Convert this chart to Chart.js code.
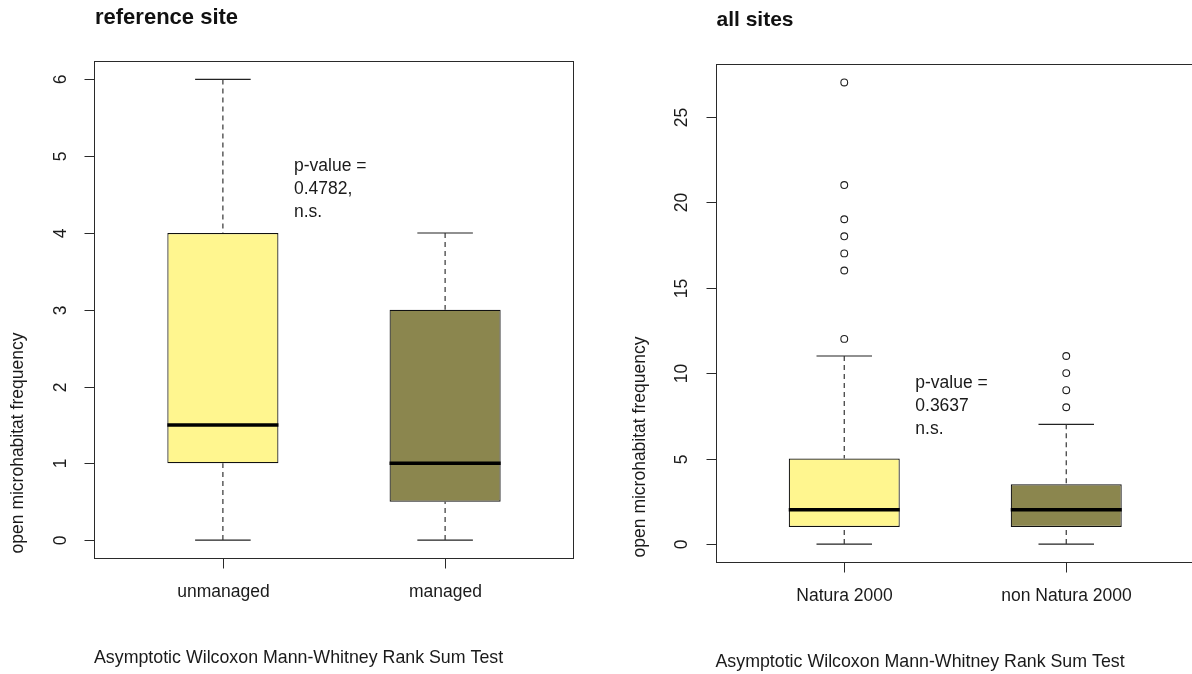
<!DOCTYPE html>
<html>
<head>
<meta charset="utf-8">
<script src="https://cdn.jsdelivr.net/npm/chart.js@4.4.1/dist/chart.umd.min.js"></script>
<style>
  html, body { margin: 0; padding: 0; background: #fff; overflow: hidden; width: 1192px; height: 674px; }
  .panel { position: absolute; top: 0; }
</style>
</head>
<body>
<div class="panel" style="left:0"><canvas id="refChart" width="596" height="674"></canvas></div>
<div class="panel" style="left:596px"><canvas id="allChart" width="610" height="674"></canvas></div>
<script>
// ---- reference site: five-number summaries per management type ----
const refTitle = 'reference site';
const refCategories = ['unmanaged', 'managed'];
const refMin = [0, 0];
const refQ1 = [1, 0.5];
const refMedian = [1.5, 1];
const refQ3 = [4, 3];
const refMax = [6, 4];
const refOutliers = [[], []];
const refTicks = [0, 1, 2, 3, 4, 5, 6];
const refPValue = ['p-value =', '0.4782,', 'n.s.'];
const refPValueAt = [1.32, 4.87];

// ---- all sites: five-number summaries per protection status ----
const allTitle = 'all sites';
const allCategories = ['Natura 2000', 'non Natura 2000'];
const allMin = [0, 0];
const allQ1 = [1, 1];
const allMedian = [2, 2];
const allQ3 = [5, 3.5];
const allMax = [11, 7];
const allOutliers = [[27, 21, 19, 18, 17, 16, 12], [11, 10, 9, 8]];
const allTicks = [0, 5, 10, 15, 20, 25];
const allPValue = ['p-value =', '0.3637', 'n.s.'];
const allPValueAt = [1.32, 9.42];

const yAxisTitle = 'open microhabitat frequency';
const testCaption = 'Asymptotic Wilcoxon Mann-Whitney Rank Sum Test';
const boxColors = ['#FFF68F', '#8B864E'];

const FONT = '"Liberation Sans", Arial, sans-serif';
const INK = '#1a1a1a';

// frame, axes, labels and annotations drawn on top of the datasets
const decor = {
  id: 'decor',
  afterDatasetsDraw(chart, args, o) {
    const { ctx, chartArea: a, scales: { x, y } } = chart;
    ctx.save();
    ctx.strokeStyle = '#2a2a2a';
    ctx.lineWidth = 1;
    const L = Math.round(a.left) + 0.5, T = Math.round(a.top) + 0.5;
    const R = Math.round(a.right) - 0.5, B = Math.round(a.bottom) - 0.5;
    ctx.strokeRect(L, T, R - L, B - T);

    ctx.fillStyle = INK;
    ctx.font = o.textSize + 'px ' + FONT;
    // y axis ticks with rotated labels
    y.ticks.forEach(t => {
      const py = Math.round(y.getPixelForValue(t.value)) + 0.5;
      ctx.beginPath(); ctx.moveTo(L - 10, py); ctx.lineTo(L, py); ctx.stroke();
      ctx.save();
      ctx.translate(a.left - 33, py);
      ctx.rotate(-Math.PI / 2);
      ctx.textAlign = 'center'; ctx.textBaseline = 'middle';
      ctx.fillText(String(t.value), 0, 0);
      ctx.restore();
    });
    // x axis ticks and category names
    x.ticks.forEach((t, i) => {
      const px = Math.round(x.getPixelForValue(t.value)) + 0.5;
      ctx.beginPath(); ctx.moveTo(px, B); ctx.lineTo(px, B + 10); ctx.stroke();
      ctx.textAlign = 'center'; ctx.textBaseline = 'middle';
      ctx.fillText(o.categories[i], px, a.bottom + 34);
    });
    // y axis title
    ctx.save();
    ctx.translate(a.left - 75.5, a.bottom - 115.5);
    ctx.rotate(-Math.PI / 2);
    ctx.textAlign = 'center'; ctx.textBaseline = 'middle';
    ctx.fillText(yAxisTitle, 0, 0);
    ctx.restore();
    // p-value annotation
    ctx.textAlign = 'left'; ctx.textBaseline = 'middle';
    const ax = x.getPixelForValue(o.pAt[0]);
    const ay = y.getPixelForValue(o.pAt[1]);
    o.pText.forEach((s, i) => ctx.fillText(s, ax, ay + i * 23));
    // test caption
    ctx.font = o.captionSize + 'px ' + FONT;
    ctx.fillText(testCaption, a.left, a.bottom + 99.5);
    // panel title
    ctx.font = 'bold ' + o.titleSize + 'px ' + FONT;
    ctx.fillStyle = '#111';
    ctx.fillText(o.title, a.left + 1, a.top - 43.5);
    ctx.restore();
  }
};

function boxChart(id, d, padding, sizes) {
  const pos = d.categories.map((_, i) => i + 1);
  const boxHalf = 0.25, capHalf = 0.125;
  const all = d.min.concat(d.max, d.outliers.flat());
  const lo = Math.min(...all), hi = Math.max(...all);
  const yPad = (hi - lo) * 0.04;
  const xPad = pos.length * 0.04;

  const datasets = [{
    type: 'bar',
    data: pos.map((x, i) => ({ x, y: [d.q1[i], d.q3[i]] })),
    backgroundColor: boxColors,
    borderColor: '#111',
    borderWidth: 1.2,
    borderSkipped: false,
    barPercentage: boxHalf * 2,
    categoryPercentage: 1,
    order: 10
  }];
  const seg = (pts, extra) => datasets.push(Object.assign({
    type: 'line', data: pts, pointRadius: 0, borderColor: '#222', borderWidth: 1.2,
    fill: false, tension: 0, borderCapStyle: 'butt', order: 5
  }, extra));
  pos.forEach((x, i) => {
    seg([{ x, y: d.max[i] }, { x, y: d.q3[i] }], { borderDash: [5, 4], borderColor: '#333' });
    seg([{ x, y: d.min[i] }, { x, y: d.q1[i] }], { borderDash: [5, 4], borderColor: '#333' });
    seg([{ x: x - capHalf, y: d.max[i] }, { x: x + capHalf, y: d.max[i] }]);
    seg([{ x: x - capHalf, y: d.min[i] }, { x: x + capHalf, y: d.min[i] }]);
    seg([{ x: x - boxHalf, y: d.median[i] }, { x: x + boxHalf, y: d.median[i] }],
        { borderWidth: 3.5, borderColor: '#000', order: 4 });
  });
  datasets.push({
    type: 'scatter',
    data: pos.flatMap((x, i) => d.outliers[i].map(v => ({ x, y: v }))),
    pointRadius: 3.4, pointBorderWidth: 1.1, pointBorderColor: '#222',
    pointBackgroundColor: 'rgba(0,0,0,0)', order: 0
  });

  return new Chart(document.getElementById(id), {
    type: 'bar',
    data: { datasets },
    options: {
      responsive: false,
      animation: false,
      events: [],
      layout: { padding },
      plugins: {
        legend: { display: false },
        tooltip: { enabled: false },
        decor: Object.assign({ categories: d.categories, title: d.title, pText: d.pText, pAt: d.pAt }, sizes)
      },
      scales: {
        x: {
          type: 'linear', display: false, offset: false,
          min: 0.5 - xPad, max: pos.length + 0.5 + xPad,
          afterBuildTicks: s => { s.ticks = pos.map(v => ({ value: v })); }
        },
        y: {
          type: 'linear', display: false,
          min: lo - yPad, max: hi + yPad,
          afterBuildTicks: s => { s.ticks = d.ticks.map(v => ({ value: v })); }
        }
      }
    },
    plugins: [decor]
  });
}

boxChart('refChart', {
  title: refTitle, categories: refCategories,
  min: refMin, q1: refQ1, median: refMedian, q3: refQ3, max: refMax,
  outliers: refOutliers, ticks: refTicks, pText: refPValue, pAt: refPValueAt
}, { left: 94, right: 22, top: 61, bottom: 115.5 },
   { textSize: 17.5, captionSize: 17.8, titleSize: 22 });

boxChart('allChart', {
  title: allTitle, categories: allCategories,
  min: allMin, q1: allQ1, median: allMedian, q3: allQ3, max: allMax,
  outliers: allOutliers, ticks: allTicks, pText: allPValue, pAt: allPValueAt
}, { left: 119.5, right: 11, top: 64, bottom: 111.5 },
   { textSize: 17.5, captionSize: 17.8, titleSize: 21 });
</script>
</body>
</html>
